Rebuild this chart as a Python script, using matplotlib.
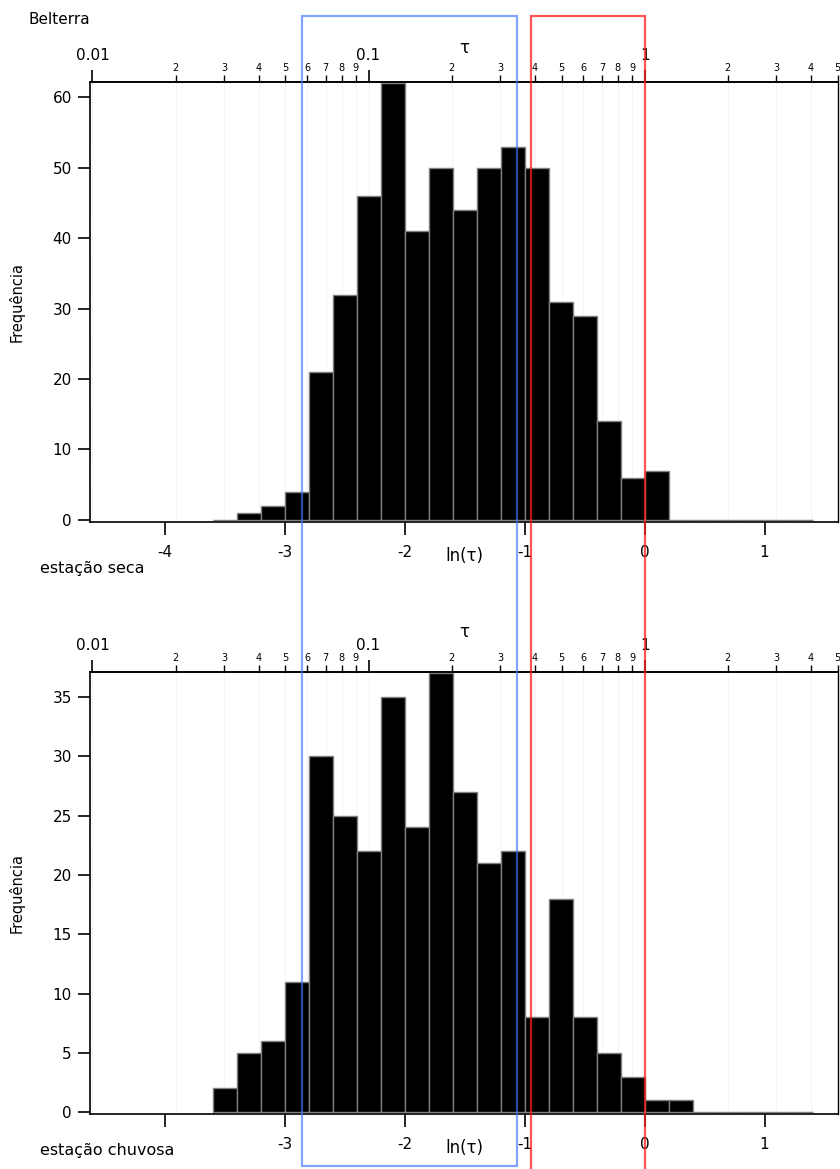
import numpy as np
import matplotlib
matplotlib.use("Agg")
import matplotlib.pyplot as plt
from matplotlib.patches import Rectangle
from matplotlib.transforms import blended_transform_factory

plt.rcParams["font.family"] = ["DejaVu Sans"]

# ---------------- data ----------------
# histogram of ln(tau), bins of width 0.2 starting at -3.6
bin_left = np.round(np.arange(-3.6, 1.4, 0.2), 1)
bin_width = 0.2

counts_seca = [0, 1, 2, 4, 21, 32, 46, 62, 41, 50, 44, 50, 53,
               50, 31, 29, 14, 6, 7, 0, 0, 0, 0, 0, 0]
counts_chuvosa = [2, 5, 6, 11, 30, 25, 22, 35, 24, 37, 27, 21, 22,
                  8, 18, 8, 5, 3, 1, 1, 0, 0, 0, 0, 0]

panel_labels = ["estação seca", "estação chuvosa"]
yticks_list = [[0, 10, 20, 30, 40, 50, 60], [0, 5, 10, 15, 20, 25, 30, 35]]
ylims = [(-0.3, 62.2), (-0.15, 37.1)]

ln_ticks = [-4, -3, -2, -1, 0, 1]
ln_labels_seca = ["-4", "-3", "-2", "-1", "0", "1"]
ln_labels_chuvosa = ["", "-3", "-2", "-1", "0", "1"]

tau_major = [0.01, 0.1, 1]
tau_major_labels = ["0.01", "0.1", "1"]
tau_minor = [0.02, 0.03, 0.04, 0.05, 0.06, 0.07, 0.08, 0.09,
             0.2, 0.3, 0.4, 0.5, 0.6, 0.7, 0.8, 0.9,
             2, 3, 4, 5]
tau_minor_labels = ["2", "3", "4", "5", "6", "7", "8", "9",
                    "2", "3", "4", "5", "6", "7", "8", "9",
                    "2", "3", "4", "5"]

# highlighted ln(tau) ranges
blue_range = (-2.858, -1.067)
red_range = (-0.95, 0.0)

XLIM = (-4.625, 1.612)

# ---------------- figure ----------------
W, H = 840, 1169
fig = plt.figure(figsize=(W / 100, H / 100), dpi=100)

ax1 = fig.add_axes([90 / W, 1 - 522 / H, 748 / W, 440 / H])
ax2 = fig.add_axes([90 / W, 1 - 1114 / H, 748 / W, 442 / H])

panels = [
    (ax1, counts_seca, ln_labels_seca, 1.077),
    (ax2, counts_chuvosa, ln_labels_chuvosa, 1.09),
]

for i, (ax, counts, ln_labels, tau_y) in enumerate(panels):
    ax.bar(bin_left, counts, width=bin_width, align="edge",
           color="black", edgecolor="#7f7f7f", linewidth=1.0, zorder=2)
    ax.set_xlim(*XLIM)
    ax.set_ylim(*ylims[i])
    ax.set_yticks(yticks_list[i])
    ax.set_xticks(ln_ticks, labels=ln_labels)

    # dotted guide lines at tau positions
    ax.set_xticks(np.log(tau_major + tau_minor), minor=True)
    ax.tick_params(axis="x", which="minor", bottom=False)
    ax.grid(True, which="minor", axis="x", color="#e0e0e0",
            linestyle=":", linewidth=0.7)
    ax.set_axisbelow(True)

    ax.tick_params(axis="both", which="major", direction="out", length=9,
                   width=1.2, labelsize=11)
    ax.tick_params(axis="x", which="major", pad=7.5)
    ax.tick_params(axis="y", which="major", pad=4)
    for s in ax.spines.values():
        s.set_linewidth(1.2)
    ax.spines["right"].set_linewidth(1.0)

    ax.set_ylabel("Frequência", fontsize=10.5)
    ax.yaxis.set_label_coords(-0.087, 0.5)
    ax.text(0.5, -0.077, "ln(τ)", transform=ax.transAxes,
            ha="center", va="center", fontsize=12)

    # tau axis on top
    sec = ax.secondary_xaxis("top", functions=(np.exp, np.log))
    sec.set_xticks(tau_major, labels=tau_major_labels)
    sec.set_xticks(tau_minor, labels=tau_minor_labels, minor=True)
    sec.tick_params(which="major", direction="out", length=8.5, width=1.2,
                    labelsize=11, pad=5)
    sec.tick_params(which="minor", direction="out", length=5, width=1.0,
                    labelsize=7, pad=1.5)
    sec.spines["top"].set_linewidth(1.2)
    ax.text(0.5, tau_y, "τ", transform=ax.transAxes,
            ha="center", va="center", fontsize=12)

fig.text(28 / W, 1 - 20 / H, "Belterra", ha="left", va="center", fontsize=11)
fig.text(40 / W, 1 - 569 / H, panel_labels[0], ha="left", va="center",
         fontsize=11.5)
fig.text(40 / W, 1 - 1150 / H, panel_labels[1], ha="left", va="center",
         fontsize=11.5)

# highlight boxes spanning both panels
trans = blended_transform_factory(ax1.transData, fig.transFigure)
blue_box = Rectangle((blue_range[0], 1 - 1166 / H),
                     blue_range[1] - blue_range[0], (1166 - 16) / H,
                     transform=trans, fill=False, edgecolor=(0.25, 0.45, 1.0),
                     alpha=0.65, linewidth=1.6, clip_on=False, zorder=10)
red_box = Rectangle((red_range[0], -0.02),
                    red_range[1] - red_range[0], 1 - 16 / H + 0.02,
                    transform=trans, fill=False, edgecolor=(1.0, 0.1, 0.1),
                    alpha=0.75, linewidth=1.6, clip_on=False, zorder=10)
fig.add_artist(blue_box)
fig.add_artist(red_box)

fig.savefig("out.png", dpi=100)
